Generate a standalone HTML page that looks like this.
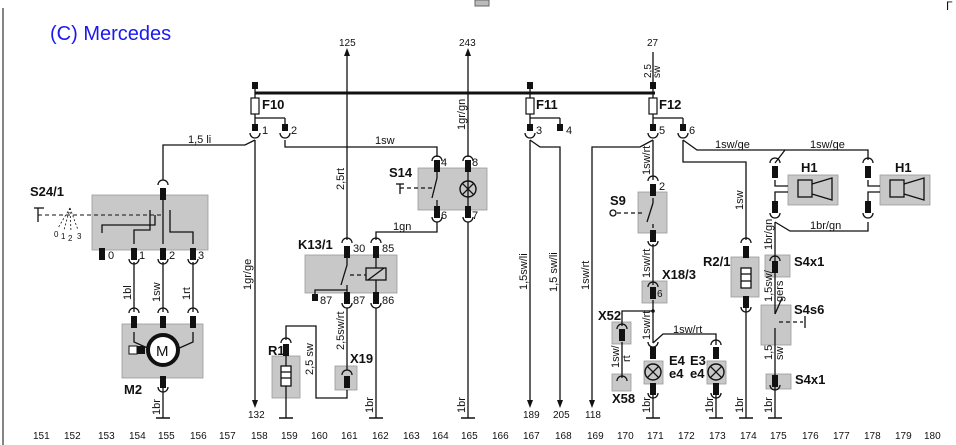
<!DOCTYPE html>
<html><head><meta charset="utf-8"><style>
html,body{margin:0;padding:0;background:#fff;}
svg{display:block;}
text{font-family:"Liberation Sans",sans-serif;fill:#111;}
.t{font-size:11px;}
.l{font-size:10px;}
.b{font-size:13px;font-weight:bold;}
.n{font-size:10px;fill:#222;}
</style></head><body>
<svg width="956" height="445" viewBox="0 0 956 445" xmlns="http://www.w3.org/2000/svg">
<defs>
<g id="tm"><rect x="-3" y="-6" width="6" height="12" fill="#111"/></g>
<g id="su"><path d="M-5,3 a5,5 0 0 1 10,0" fill="none" stroke="#111" stroke-width="1.3"/></g>
<g id="sd"><path d="M-5,-3 a5,5 0 0 0 10,0" fill="none" stroke="#111" stroke-width="1.3"/></g>
<g id="gd"><line x1="-7" y1="0" x2="7" y2="0" stroke="#111" stroke-width="1.5"/></g>
<g id="lp"><circle r="8" fill="none" stroke="#111" stroke-width="1.4"/><line x1="-5.6" y1="-5.6" x2="5.6" y2="5.6" stroke="#111" stroke-width="1.3"/><line x1="-5.6" y1="5.6" x2="5.6" y2="-5.6" stroke="#111" stroke-width="1.3"/></g>
</defs>
<rect width="956" height="445" fill="#fff"/>
<line x1="3" y1="8" x2="3" y2="445" stroke="#333" stroke-width="1.2"/>
<rect x="475" y="0" width="14" height="6" fill="#bbb" stroke="#666"/>
<text x="946" y="10" style="font-size:12px">Г</text>
<text x="50" y="40" style="font-size:20px;fill:#1a1aee">(C) Mercedes</text>

<g fill="#c8c8c8" stroke="#999" stroke-width="0.8">
<rect x="92" y="195" width="116" height="55"/>
<rect x="122" y="324" width="81" height="54"/>
<rect x="305" y="255" width="92" height="38"/>
<rect x="272" y="356" width="28" height="42"/>
<rect x="335" y="366" width="22" height="24"/>
<rect x="418" y="168" width="69" height="42"/>
<rect x="638" y="192" width="29" height="41"/>
<rect x="642" y="281" width="25" height="22"/>
<rect x="612" y="322" width="19" height="22"/>
<rect x="612" y="374" width="19" height="17"/>
<rect x="644" y="361" width="19" height="23"/>
<rect x="707" y="361" width="19" height="23"/>
<rect x="731" y="257" width="28" height="40"/>
<rect x="765" y="255" width="25" height="22"/>
<rect x="761" y="305" width="30" height="40"/>
<rect x="766" y="374" width="25" height="15"/>
<rect x="788" y="175" width="50" height="30"/>
<rect x="880" y="175" width="50" height="30"/>
</g>

<g stroke="#111" stroke-width="1.3" fill="none">
<line x1="255" y1="93" x2="655" y2="93" stroke-width="3"/>
<line x1="255" y1="85" x2="255" y2="130"/>
<line x1="530" y1="85" x2="530" y2="130"/>
<line x1="653" y1="52" x2="653" y2="130"/>
<line x1="255" y1="118" x2="285" y2="118"/><line x1="285" y1="118" x2="285" y2="128"/>
<line x1="530" y1="118" x2="560" y2="118"/><line x1="560" y1="118" x2="560" y2="128"/>
<line x1="653" y1="118" x2="683" y2="118"/><line x1="683" y1="118" x2="683" y2="128"/>
<line x1="255" y1="140" x2="255" y2="404"/>
<path d="M255,140 L245,145 L163,145 L163,180"/>
<line x1="163" y1="188" x2="163" y2="244"/>
<path d="M102,233 V225 H155 V215"/>
<path d="M134,244 V230 H150 V210"/>
<path d="M193,244 V232 H170 V210"/>
<line x1="134" y1="262" x2="134" y2="312"/>
<line x1="163" y1="262" x2="163" y2="312"/>
<line x1="193" y1="262" x2="193" y2="312"/>
<line x1="163" y1="388" x2="163" y2="418"/>
<path d="M134,332 V342 L152,350"/><path d="M193,332 V342 L175,350"/>
<line x1="347" y1="52" x2="347" y2="240"/>
<line x1="468" y1="52" x2="468" y2="157"/>
<line x1="468" y1="222" x2="468" y2="418"/>
<line x1="468" y1="170" x2="468" y2="208"/>
<path d="M285,140 V147 H437 V157"/>
<line x1="437" y1="170" x2="437" y2="178"/><line x1="437" y1="178" x2="432" y2="198"/><line x1="437" y1="200" x2="437" y2="208"/>
<line x1="400" y1="188" x2="432" y2="188" stroke-dasharray="4,3"/>
<path d="M437,222 V232 H376 V240"/>
<line x1="376" y1="258" x2="376" y2="292"/>
<path d="M347,258 V265 L341,285"/><path d="M347,285 V292"/>
<path d="M315,296 V290 H347"/>
<line x1="350" y1="275" x2="368" y2="275" stroke-dasharray="4,3"/>
<rect x="366" y="268" width="20" height="12" fill="#c8c8c8"/><line x1="368" y1="280" x2="384" y2="268"/>
<line x1="376" y1="308" x2="376" y2="418"/>
<line x1="347" y1="308" x2="347" y2="370"/>
<path d="M347,390 V398 H316 V326 H286 V340"/>
<line x1="286" y1="350" x2="286" y2="418"/>
<rect x="281" y="366" width="10" height="20" fill="#fff"/>
<line x1="281" y1="372" x2="291" y2="372"/><line x1="281" y1="378" x2="291" y2="378"/>
<line x1="530" y1="140" x2="530" y2="404"/>
<path d="M530,140 L540,147 H560 V404"/>
<path d="M653,140 L640,147 H592 V404"/>
<line x1="653" y1="140" x2="653" y2="180"/>
<line x1="653" y1="198" x2="653" y2="203"/><line x1="653" y1="203" x2="647" y2="222"/><line x1="653" y1="224" x2="653" y2="228"/>
<circle cx="613" cy="213" r="3"/><line x1="617" y1="213" x2="645" y2="213" stroke-dasharray="4,3"/>
<line x1="653" y1="244" x2="653" y2="285"/>
<line x1="653" y1="300" x2="653" y2="343"/>
<path d="M653,311 H622 V326"/>
<line x1="622" y1="342" x2="622" y2="378"/>
<path d="M653,343 L663,334 H716 V345"/>
<line x1="653" y1="395" x2="653" y2="418"/>
<line x1="716" y1="395" x2="716" y2="418"/>
<path d="M683,140 V162 H746 V240"/>
<path d="M683,140 L697,150 H775 L785,150"/>
<path d="M775,163 L785,150 H868 V160"/>
<line x1="746" y1="308" x2="746" y2="418"/>
<rect x="741" y="268" width="10" height="20" fill="#fff"/>
<line x1="741" y1="274" x2="751" y2="274"/><line x1="741" y1="281" x2="751" y2="281"/>
<path d="M775,180 V186 H788"/><path d="M775,210 V192 H788"/>
<path d="M868,180 V186 H880"/><path d="M868,210 V192 H880"/>
<rect x="798" y="180" width="14" height="17" fill="#c8c8c8"/><path d="M812,184 L832,178 V200 L812,194"/>
<rect x="890" y="180" width="14" height="17" fill="#c8c8c8"/><path d="M904,184 L924,178 V200 L904,194"/>
<path d="M775,222 L790,231 H868 V222"/>
<line x1="775" y1="222" x2="775" y2="314"/>
<line x1="775" y1="314" x2="782" y2="298"/>
<line x1="775" y1="328" x2="775" y2="418"/>
<line x1="779" y1="322" x2="803" y2="322" stroke-dasharray="4,3"/><line x1="805" y1="316" x2="805" y2="328"/>
</g>

<g fill="#fff" stroke="#111" stroke-width="1.2">
<rect x="251" y="98" width="8" height="16"/><rect x="526" y="98" width="8" height="16"/><rect x="649" y="98" width="8" height="16"/>
</g>
<g fill="#111">
<rect x="252" y="82" width="6" height="7"/><rect x="527" y="82" width="6" height="7"/><rect x="650" y="82" width="6" height="7"/>
<rect x="252" y="124" width="6" height="7"/><rect x="282" y="124" width="6" height="7"/>
<rect x="527" y="124" width="6" height="7"/><rect x="557" y="124" width="6" height="7"/>
<rect x="650" y="124" width="6" height="7"/><rect x="680" y="124" width="6" height="7"/>
</g>
<g>
<use href="#sd" x="255" y="136"/><use href="#sd" x="285" y="136"/><use href="#sd" x="530" y="136"/><use href="#sd" x="653" y="136"/><use href="#sd" x="683" y="136"/>
<use href="#su" x="163" y="182"/><use href="#tm" x="163" y="194"/>
<use href="#tm" x="102" y="254"/><use href="#tm" x="134" y="254"/><use href="#tm" x="163" y="254"/><use href="#tm" x="193" y="254"/>
<use href="#sd" x="134" y="262"/><use href="#sd" x="163" y="262"/><use href="#sd" x="193" y="262"/>
<use href="#su" x="134" y="310"/><use href="#su" x="163" y="310"/><use href="#su" x="193" y="310"/>
<use href="#tm" x="134" y="322"/><use href="#tm" x="163" y="322"/><use href="#tm" x="193" y="322"/>
<use href="#tm" x="163" y="382"/><use href="#sd" x="163" y="390"/><use href="#gd" x="163" y="418"/>
<use href="#su" x="437" y="158"/><use href="#tm" x="437" y="166"/><use href="#su" x="468" y="158"/><use href="#tm" x="468" y="166"/>
<use href="#tm" x="437" y="212"/><use href="#sd" x="437" y="220"/><use href="#tm" x="468" y="212"/><use href="#sd" x="468" y="220"/>
<use href="#lp" x="468" y="189"/>
<use href="#su" x="347" y="240"/><use href="#tm" x="347" y="252"/><use href="#su" x="376" y="240"/><use href="#tm" x="376" y="252"/>
<rect x="312" y="294" width="6" height="7" fill="#111"/><use href="#tm" x="347" y="298"/><use href="#sd" x="347" y="306"/><use href="#tm" x="376" y="298"/><use href="#sd" x="376" y="306"/>
<use href="#gd" x="376" y="418"/><use href="#gd" x="468" y="418"/>
<use href="#su" x="286" y="340"/><use href="#tm" x="286" y="350"/><use href="#gd" x="286" y="418"/>
<use href="#su" x="347" y="372"/><use href="#tm" x="347" y="382"/>
<use href="#su" x="653" y="178"/><use href="#tm" x="653" y="190"/><use href="#tm" x="653" y="236"/><use href="#sd" x="653" y="244"/>
<use href="#su" x="653" y="284"/><use href="#tm" x="653" y="293"/>
<circle cx="653" cy="311" r="1.8" fill="#111"/>
<use href="#su" x="622" y="326"/><use href="#tm" x="622" y="335"/><use href="#su" x="622" y="378"/>
<use href="#sd" x="653" y="345"/><use href="#tm" x="653" y="353"/><use href="#lp" x="653" y="372"/><use href="#tm" x="653" y="389"/><use href="#sd" x="653" y="396"/><use href="#gd" x="653" y="418"/>
<use href="#su" x="716" y="342"/><use href="#tm" x="716" y="353"/><use href="#lp" x="716" y="372"/><use href="#tm" x="716" y="389"/><use href="#sd" x="716" y="396"/><use href="#gd" x="716" y="418"/>
<use href="#su" x="746" y="240"/><use href="#tm" x="746" y="252"/><use href="#tm" x="746" y="302"/><use href="#sd" x="746" y="310"/><use href="#gd" x="746" y="418"/>
<use href="#su" x="775" y="160"/><use href="#tm" x="775" y="172"/><use href="#tm" x="775" y="207"/><use href="#sd" x="775" y="216"/>
<use href="#su" x="868" y="160"/><use href="#tm" x="868" y="172"/><use href="#tm" x="868" y="207"/><use href="#sd" x="868" y="216"/>
<use href="#su" x="775" y="258"/><use href="#tm" x="775" y="267"/><use href="#tm" x="775" y="381"/><use href="#sd" x="775" y="388"/><use href="#gd" x="775" y="418"/>
</g>
<circle cx="163" cy="350" r="15" fill="#fff" stroke="#111" stroke-width="4"/>
<text x="156" y="356" style="font-size:15px">M</text>
<rect x="129" y="346" width="8" height="8" fill="#fff" stroke="#111"/><rect x="137" y="346" width="8" height="8" fill="#111"/>
<line x1="38" y1="215" x2="163" y2="215" stroke="#111" stroke-dasharray="4,3"/>
<line x1="38" y1="208" x2="38" y2="222" stroke="#111" stroke-width="1.3"/><line x1="34" y1="208" x2="44" y2="208" stroke="#111" stroke-width="1.3"/>
<g stroke="#111" stroke-width="0.8" stroke-dasharray="2,2"><line x1="70" y1="208" x2="58" y2="228"/><line x1="70" y1="208" x2="64" y2="230"/><line x1="70" y1="208" x2="71" y2="232"/><line x1="70" y1="208" x2="78" y2="230"/></g>
<g class="l" style="font-size:8px"><text x="54" y="237">0</text><text x="61" y="239">1</text><text x="68" y="241">2</text><text x="77" y="239">3</text></g>
<line x1="400" y1="184" x2="400" y2="194" stroke="#111" stroke-width="1.3"/><line x1="396" y1="184" x2="404" y2="184" stroke="#111" stroke-width="1.3"/>
<g fill="#111"><path d="M344,56 L347,48 L350,56Z"/><path d="M465,56 L468,48 L471,56Z"/>
<path d="M252,400 L255,408 L258,400Z"/><path d="M527,400 L530,408 L533,400Z"/><path d="M557,400 L560,408 L563,400Z"/><path d="M589,400 L592,408 L595,400Z"/></g>

<g class="b">
<text x="262" y="109">F10</text><text x="536" y="109">F11</text><text x="659" y="109">F12</text>
<text x="30" y="196">S24/1</text><text x="124" y="394">M2</text><text x="298" y="249">K13/1</text>
<text x="389" y="177">S14</text><text x="268" y="355">R1</text><text x="350" y="363">X19</text>
<text x="610" y="205">S9</text><text x="662" y="279">X18/3</text><text x="598" y="320">X52</text><text x="612" y="403">X58</text>
<text x="669" y="365">E4</text><text x="669" y="378">e4</text><text x="690" y="365">E3</text><text x="690" y="378">e4</text>
<text x="703" y="266">R2/1</text><text x="794" y="266">S4x1</text><text x="794" y="314">S4s6</text><text x="795" y="384">S4x1</text>
<text x="801" y="172">H1</text><text x="895" y="172">H1</text>
</g>
<g class="t">
<text x="262" y="134">1</text><text x="291" y="134">2</text><text x="536" y="134">3</text><text x="566" y="134">4</text><text x="659" y="134">5</text><text x="689" y="134">6</text>
<text x="188" y="143">1,5 li</text><text x="375" y="144">1sw</text><text x="393" y="230">1gn</text>
<text x="715" y="148">1sw/ge</text><text x="810" y="148">1sw/ge</text><text x="810" y="229">1br/gn</text><text x="673" y="333">1sw/rt</text>
<text x="108" y="259">0</text><text x="139" y="259">1</text><text x="169" y="259">2</text><text x="198" y="259">3</text>
<text x="441" y="166">4</text><text x="472" y="166">8</text><text x="441" y="219">6</text><text x="472" y="219">7</text>
<text x="353" y="252">30</text><text x="382" y="252">85</text><text x="320" y="304">87</text><text x="353" y="304">87</text><text x="382" y="304">86</text>
<text x="659" y="190">2</text><text x="657" y="297" class="l">6</text>
<text x="339" y="46" class="l">125</text><text x="459" y="46" class="l">243</text><text x="647" y="46" class="l">27</text>
<text x="248" y="418" class="l">132</text><text x="523" y="418" class="l">189</text><text x="553" y="418" class="l">205</text><text x="585" y="418" class="l">118</text>
</g>
<g class="t">
<text transform="translate(131,300) rotate(-90)">1bl</text>
<text transform="translate(160,302) rotate(-90)">1sw</text>
<text transform="translate(190,300) rotate(-90)">1rt</text>
<text transform="translate(251,290) rotate(-90)">1gr/ge</text>
<text transform="translate(344,190) rotate(-90)">2,5rt</text>
<text transform="translate(465,130) rotate(-90)">1gr/gn</text>
<text transform="translate(344,350) rotate(-90)">2,5sw/rt</text>
<text transform="translate(313,375) rotate(-90)">2,5 sw</text>
<text transform="translate(160,415) rotate(-90)">1br</text>
<text transform="translate(373,413) rotate(-90)">1br</text>
<text transform="translate(465,413) rotate(-90)">1br</text>
<text transform="translate(527,290) rotate(-90)">1,5sw/li</text>
<text transform="translate(557,292) rotate(-90)">1,5 sw/li</text>
<text transform="translate(589,290) rotate(-90)">1sw/rt</text>
<text transform="translate(650,175) rotate(-90)">1sw/rt</text>
<text transform="translate(650,278) rotate(-90)">1sw/rt</text>
<text transform="translate(650,340) rotate(-90)">1sw/rt</text>
<text transform="translate(619,368) rotate(-90)">1sw/</text>
<text transform="translate(630,362) rotate(-90)">rt</text>
<text transform="translate(650,413) rotate(-90)">1br</text>
<text transform="translate(713,413) rotate(-90)">1br</text>
<text transform="translate(743,413) rotate(-90)">1br</text>
<text transform="translate(772,413) rotate(-90)">1br</text>
<text transform="translate(743,210) rotate(-90)">1sw</text>
<text transform="translate(772,250) rotate(-90)">1br/gn</text>
<text transform="translate(772,302) rotate(-90)">1,5sw/</text>
<text transform="translate(783,302) rotate(-90)">gers</text>
<text transform="translate(772,360) rotate(-90)">1,5</text>
<text transform="translate(783,360) rotate(-90)">sw</text>
<text transform="translate(651,78) rotate(-90)" class="l">2,5</text>
<text transform="translate(660,78) rotate(-90)" class="l">sw</text>
</g>
<g class="n">
<text x="33" y="439">151</text><text x="64" y="439">152</text><text x="98" y="439">153</text><text x="129" y="439">154</text><text x="158" y="439">155</text><text x="190" y="439">156</text><text x="219" y="439">157</text><text x="251" y="439">158</text><text x="281" y="439">159</text><text x="311" y="439">160</text><text x="341" y="439">161</text><text x="372" y="439">162</text><text x="403" y="439">163</text><text x="432" y="439">164</text><text x="461" y="439">165</text><text x="492" y="439">166</text><text x="523" y="439">167</text><text x="555" y="439">168</text><text x="587" y="439">169</text><text x="617" y="439">170</text><text x="647" y="439">171</text><text x="678" y="439">172</text><text x="709" y="439">173</text><text x="740" y="439">174</text><text x="770" y="439">175</text><text x="802" y="439">176</text><text x="833" y="439">177</text><text x="864" y="439">178</text><text x="895" y="439">179</text><text x="924" y="439">180</text>
</g>
</svg>
</body></html>
